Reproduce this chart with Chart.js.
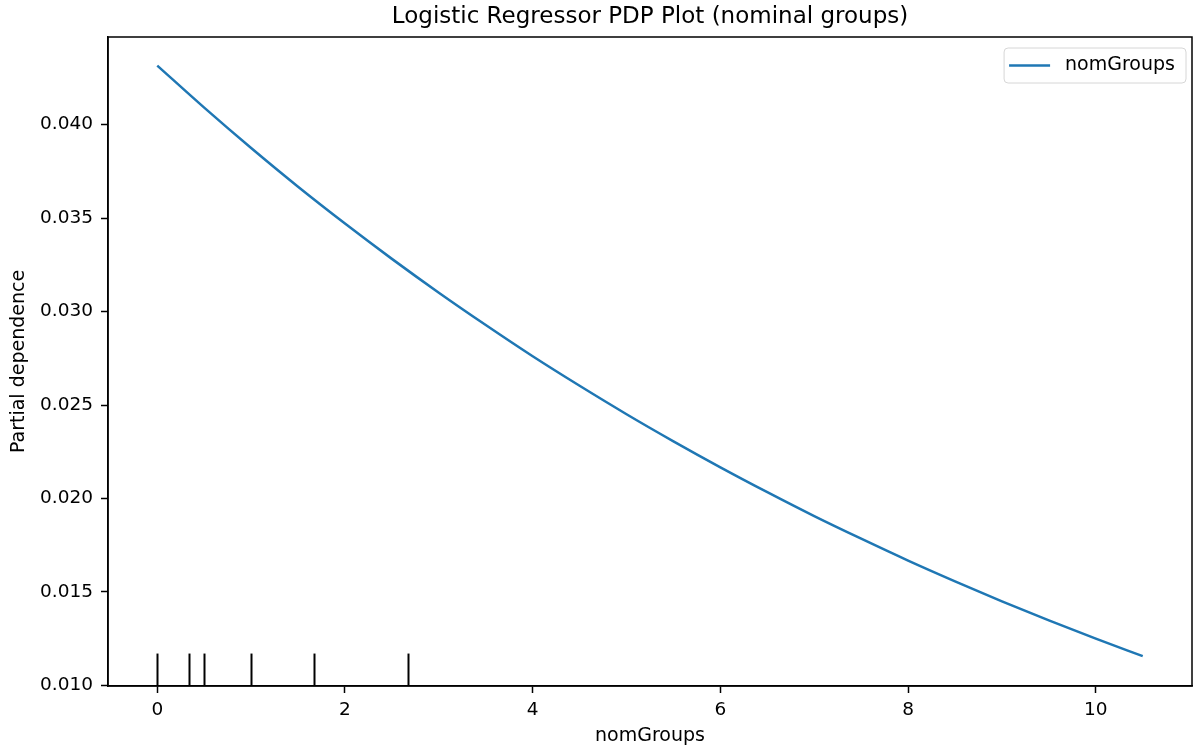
<!DOCTYPE html>
<html>
<head>
<meta charset="utf-8">
<title>Logistic Regressor PDP Plot</title>
<script src="https://cdn.jsdelivr.net/npm/chart.js@4.4.1/dist/chart.umd.min.js"></script>
<style>
  html, body { margin: 0; padding: 0; background: #fff; }
  canvas { display: block; }
</style>
</head>
<body>
<canvas id="pdpChart" width="1194" height="747"></canvas>
<script>
// partial dependence of the predicted probability on nomGroups
const gridX = [0, 0.5, 1, 1.5, 2, 2.5, 3, 3.5, 4, 4.5, 5, 5.5, 6, 6.5, 7, 7.5, 8, 8.5, 9, 9.5, 10, 10.5];
const pdValues = [0.04316, 0.04091, 0.03875, 0.03668, 0.03471, 0.03282, 0.03101, 0.02928, 0.02761, 0.02603, 0.02451,
                  0.02306, 0.02167, 0.02034, 0.01906, 0.01785, 0.01668, 0.01557, 0.01450, 0.01348, 0.01250, 0.01157];
// deciles of the feature, drawn as a rug along the bottom
const deciles = [0, 0.333, 0.5, 1, 1.667, 2.667];

const xTicks = [0, 2, 4, 6, 8, 10];
const yTicks = [0.010, 0.015, 0.020, 0.025, 0.030, 0.035, 0.040];

const TITLE = 'Logistic Regressor PDP Plot (nominal groups)';
const FONT = "'DejaVu Sans', 'Liberation Sans', sans-serif";

// matplotlib-style axis limits: 5% margin on each side of the data
const xMin = -0.525, xMax = 11.025;
const yMin = 0.00997, yMax = 0.04469;

const framePlugin = {
    id: 'frame',
    afterDatasetsDraw(chart) {
        const {ctx, chartArea: a, scales} = chart;
        ctx.save();
        // rug of decile marks
        ctx.strokeStyle = '#000';
        ctx.lineWidth = 2;
        const h = (a.bottom - a.top) * 0.05;
        deciles.forEach(v => {
            const px = Math.round(scales.x.getPixelForValue(v)) + 0.5;
            ctx.beginPath();
            ctx.moveTo(px, a.bottom);
            ctx.lineTo(px, a.bottom - h);
            ctx.stroke();
        });
        // axes box
        ctx.lineWidth = 1.5;
        ctx.strokeRect(a.left, a.top, a.right - a.left, a.bottom - a.top);

        // title centred over the axes
        ctx.fillStyle = '#000';
        ctx.font = '23px ' + FONT;
        ctx.textAlign = 'center';
        ctx.textBaseline = 'middle';
        ctx.fillText(TITLE, (a.left + a.right) / 2, 17.5);

        // legend box in the upper right corner
        const ds = chart.data.datasets[0];
        ctx.font = '19px ' + FONT;
        ctx.textAlign = 'left';
        const tw = ctx.measureText(ds.label).width;
        const bw = tw + 72, bh = 35;
        const bx = a.right - 6 - bw, by = a.top + 11;
        ctx.beginPath();
        ctx.roundRect(bx, by, bw, bh, 4);
        ctx.fillStyle = 'rgba(255,255,255,0.8)';
        ctx.fill();
        ctx.strokeStyle = '#d6d6d6';
        ctx.lineWidth = 1;
        ctx.stroke();
        ctx.strokeStyle = ds.borderColor;
        ctx.lineWidth = 2.5;
        ctx.beginPath();
        ctx.moveTo(bx + 5, by + bh / 2);
        ctx.lineTo(bx + 46, by + bh / 2);
        ctx.stroke();
        ctx.fillStyle = '#000';
        ctx.fillText(ds.label, bx + 61, by + bh / 2);
        ctx.restore();
    }
};

const ctx = document.getElementById('pdpChart').getContext('2d');
new Chart(ctx, {
    type: 'line',
    data: {
        datasets: [{
            label: 'nomGroups',
            data: gridX.map((x, i) => ({x: x, y: pdValues[i]})),
            borderColor: '#1f77b4',
            borderWidth: 2.5,
            pointRadius: 0,
            fill: false,
            cubicInterpolationMode: 'monotone'
        }]
    },
    options: {
        responsive: false,
        animation: false,
        layout: { padding: { left: 0, right: 2, top: 37, bottom: 0 } },
        plugins: {
            legend: { display: false },
            tooltip: { enabled: false },
            title: { display: false }
        },
        scales: {
            x: {
                type: 'linear',
                min: xMin,
                max: xMax,
                afterBuildTicks: s => { s.ticks = xTicks.map(v => ({value: v})); },
                afterFit: s => { s.height = 61; },
                grid: { drawOnChartArea: false, tickLength: 7, tickColor: '#000', tickWidth: 1.5 },
                border: { color: '#000', width: 1.5 },
                ticks: {
                    color: '#000',
                    padding: 6,
                    maxRotation: 0,
                    font: { family: FONT, size: 18.5 },
                    callback: v => String(v)
                },
                title: {
                    display: true,
                    text: 'nomGroups',
                    color: '#000',
                    font: { family: FONT, size: 19 },
                    padding: { top: 0, bottom: 0 }
                }
            },
            y: {
                type: 'linear',
                min: yMin,
                max: yMax,
                afterBuildTicks: s => { s.ticks = yTicks.map(v => ({value: v})); },
                afterFit: s => { s.width = 108; },
                grid: { drawOnChartArea: false, tickLength: 7, tickColor: '#000', tickWidth: 1.5 },
                border: { color: '#000', width: 1.5 },
                ticks: {
                    color: '#000',
                    padding: 8,
                    font: { family: FONT, size: 18.5 },
                    callback: v => v.toFixed(3)
                },
                title: {
                    display: true,
                    text: 'Partial dependence',
                    color: '#000',
                    font: { family: FONT, size: 19 },
                    padding: { top: 8, bottom: 0 }
                }
            }
        }
    },
    plugins: [framePlugin]
});
</script>
</body>
</html>
